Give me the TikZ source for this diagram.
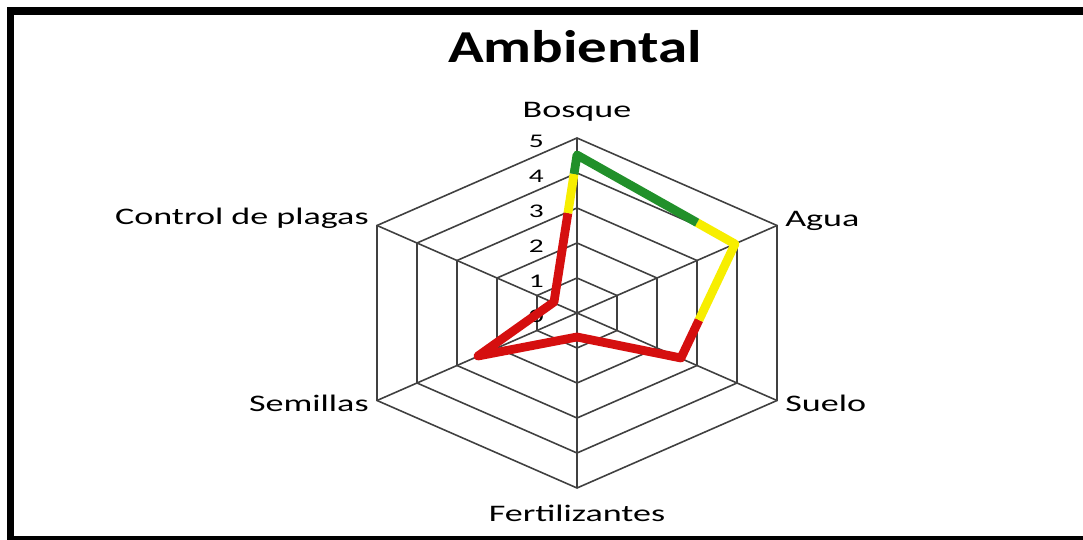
\documentclass[tikz,border=0pt]{standalone}
\usepackage{fontspec}
\setmainfont{Carlito}
\usetikzlibrary{calc}
\definecolor{gridc}{HTML}{404040}
\definecolor{serred}{HTML}{D50F0F}
\definecolor{seryel}{HTML}{F7EE00}
\definecolor{sergrn}{HTML}{21902A}
\tikzset{
  axlabel/.style={inner sep=0pt, font=\fontsize{13.5}{15}\selectfont},
  ticklabel/.style={inner sep=0pt, anchor=east, font=\fontsize{11}{13}\selectfont},
  gridline/.style={draw=gridc, line width=0.9pt},
  series/.style={line width=5pt, line join=round, line cap=butt},
}
\newcommand{\hs}[1]{\scalebox{1.52}[1]{#1}}
\begin{document}
\begin{tikzpicture}[x=0.02cm, y=-0.02cm]
\useasboundingbox (0,0) rectangle (1083,540);
\fill[white] (0,0) rectangle (1083,540);
% frame
\fill[black] (7,7) rectangle (1083,15);
\fill[black] (7,7) rectangle (14,540);
\fill[black] (7,536) rectangle (1083,540);
% title
\node[inner sep=0pt, anchor=base, font=\fontsize{26}{30}\selectfont\bfseries] (title) at (575,63) {\scalebox{1.29}[1]{Ambiental}};
% grid
\coordinate (O) at (577,313);
\foreach \k in {1,...,5}{
  \draw[gridline] (577,313-35*\k) -- (577+40*\k,313-17.5*\k) -- (577+40*\k,313+17.5*\k) -- (577,313+35*\k) -- (577-40*\k,313+17.5*\k) -- (577-40*\k,313-17.5*\k) -- cycle;
}
\coordinate (vB) at (577,138);
\coordinate (vA) at (777,225.5);
\coordinate (vS) at (777,400.5);
\coordinate (vF) at (577,488);
\coordinate (vSe) at (377,400.5);
\coordinate (vC) at (377,225.5);
\foreach \v in {vB,vA,vS,vF,vSe,vC}{\draw[gridline] (O) -- (\v);}
% tick labels
\foreach \k in {0,...,5}{
  \node[ticklabel] (t\k) at (544,316-35*\k) {\hs{\k}};
}
% axis labels
\node[axlabel, anchor=base] (lB) at (577,118) {\hs{Bosque}};
\node[axlabel, anchor=base west] (lA) at (785,227) {\hs{Agua}};
\node[axlabel, anchor=base west] (lS) at (785,412) {\hs{Suelo}};
\node[axlabel, anchor=base] (lF) at (577,522) {\hs{Fertilizantes}};
\node[axlabel, anchor=base east] (lSe) at (369,412) {\hs{Semillas}};
\node[axlabel, anchor=base east] (lC) at (369,225) {\hs{Control de plagas}};
% data points
\coordinate (pB) at (577,155);
\coordinate (pA) at (735,244);
\coordinate (pS) at (681,358);
\coordinate (pF) at (577,337);
\coordinate (pSe) at (478,356);
\coordinate (pC) at (554,302);
\coordinate (g1) at ($(pC)!0.871!(pB)$);
\coordinate (r1) at ($(pC)!0.605!(pB)$);
\coordinate (g2) at ($(pB)!0.76!(pA)$);
\coordinate (y1) at ($(pA)!0.667!(pS)$);
\draw[series, serred] (y1) -- (pS) -- (pF) -- (pSe) -- (pC) -- (r1);
\draw[series, seryel] (r1) -- (g1);
\draw[series, seryel] (g2) -- (pA) -- (y1);
\draw[series, sergrn] (g1) -- (pB) -- (g2);
\end{tikzpicture}
\end{document}
